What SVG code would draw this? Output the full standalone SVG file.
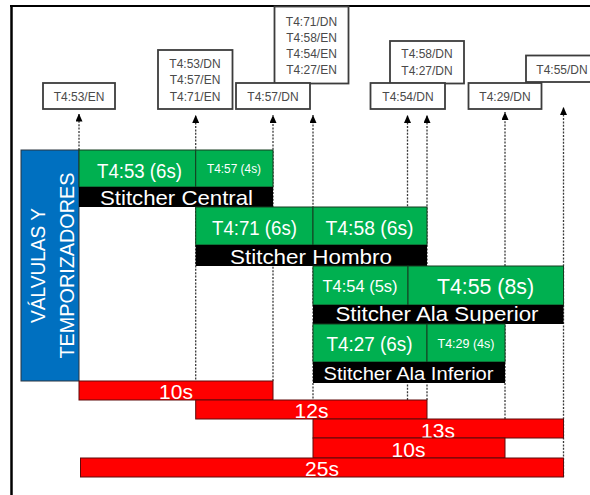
<svg xmlns="http://www.w3.org/2000/svg" width="590" height="495" viewBox="0 0 590 495">
  <style>
    .lbl rect { fill: #fff; stroke: #3c3c3c; stroke-width: 1.8; }
    .lbl text { font-family: "Liberation Sans", Arial, sans-serif; font-size: 12px; fill: #4a4a4a; text-anchor: middle; }
    .cn line { stroke: #3a3a3a; stroke-width: 1.3; stroke-dasharray: 2 1.4; marker-end: url(#ah); }
    .cell rect { fill: #00B050; stroke: #163d20; stroke-width: 1; }
    .bar rect { fill: #000; }
    .dur rect { fill: #FF0000; stroke: #5e0a0a; stroke-width: 1; }
    .t { font-family: "Liberation Sans", Arial, sans-serif; fill: #fff; text-anchor: middle; lengthAdjust: spacingAndGlyphs; }
    .frame { stroke: #000; fill: none; }
  </style>
  <defs>
    <marker id="ah" viewBox="0 0 8 7" refX="8" refY="3.5" markerWidth="8" markerHeight="7" markerUnits="userSpaceOnUse" orient="auto">
      <path d="M0,0 L8,3.5 L0,7 z" fill="#000"/>
    </marker>
  </defs>

  <rect width="590" height="495" fill="#fff"/>

  <!-- page frame -->
  <line class="frame" x1="11.5" y1="5" x2="11.5" y2="495" stroke-width="2.5"/>
  <line class="frame" x1="10" y1="6" x2="590" y2="6" stroke-width="2"/>

  <!-- dashed signal lines -->
  <g id="connectors" class="cn">
    <line x1="79" y1="150" x2="79" y2="113.5"/>
    <line x1="195.7" y1="400" x2="195.7" y2="115"/>
    <line x1="273" y1="381" x2="273" y2="115"/>
    <line x1="313" y1="419" x2="313" y2="115"/>
    <line x1="407.5" y1="400" x2="407.5" y2="115"/>
    <line x1="427" y1="400" x2="427" y2="115"/>
    <line x1="505" y1="419" x2="505" y2="112"/>
    <line x1="563.5" y1="477" x2="563.5" y2="107"/>
  </g>

  <!-- event labels -->
  <g id="lbl-t453en" class="lbl">
    <rect x="43" y="83" width="72" height="26"/>
    <text x="79" y="100.5">T4:53/EN</text>
  </g>
  <g id="lbl-t453dn" class="lbl">
    <rect x="158" y="50" width="74.5" height="59"/>
    <text x="195" y="67.5">T4:53/DN</text>
    <text x="195" y="84">T4:57/EN</text>
    <text x="195" y="100.5">T4:71/EN</text>
  </g>
  <g id="lbl-t471dn" class="lbl">
    <rect x="274.5" y="6.5" width="74" height="77"/>
    <text x="311.5" y="25.5">T4:71/DN</text>
    <text x="311.5" y="41.5">T4:58/EN</text>
    <text x="311.5" y="57.5">T4:54/EN</text>
    <text x="311.5" y="73.5">T4:27/EN</text>
  </g>
  <g id="lbl-t457dn" class="lbl">
    <rect x="236" y="83" width="74" height="26"/>
    <text x="273" y="100.5">T4:57/DN</text>
  </g>
  <g id="lbl-t458dn" class="lbl">
    <rect x="390" y="41" width="74" height="42.5"/>
    <text x="427" y="58">T4:58/DN</text>
    <text x="427" y="74.5">T4:27/DN</text>
  </g>
  <g id="lbl-t454dn" class="lbl">
    <rect x="370.5" y="83" width="74.5" height="26"/>
    <text x="408" y="100.5">T4:54/DN</text>
  </g>
  <g id="lbl-t455dn" class="lbl">
    <rect x="526" y="55.5" width="80" height="26.5"/>
    <text x="562" y="74">T4:55/DN</text>
  </g>
  <g id="lbl-t429dn" class="lbl">
    <rect x="468.5" y="83" width="73" height="26"/>
    <text x="505" y="100.5">T4:29/DN</text>
  </g>

  <!-- side heading -->
  <g id="heading">
    <rect x="21" y="150" width="58" height="231" fill="#0070C0" stroke="#2b3440" stroke-width="1"/>
    <text class="t" transform="translate(45,265.5) rotate(-90)" font-size="21" textLength="115" lengthAdjust="spacingAndGlyphs">VÁLVULAS Y</text>
    <text class="t" transform="translate(73.5,265.5) rotate(-90)" font-size="21" textLength="186" lengthAdjust="spacingAndGlyphs">TEMPORIZADORES</text>
  </g>

  <!-- Stitcher Central -->
  <g id="t453" class="cell">
    <rect x="79" y="150" width="116.7" height="37"/>
    <text class="t" x="139.5" y="177.5" font-size="20" textLength="85" lengthAdjust="spacingAndGlyphs">T4:53 (6s)</text>
  </g>
  <g id="t457" class="cell">
    <rect x="195.7" y="150" width="77.3" height="37"/>
    <text class="t" x="234" y="173" font-size="12" textLength="54" lengthAdjust="spacingAndGlyphs">T4:57 (4s)</text>
  </g>
  <g id="st-central" class="bar">
    <rect x="79" y="187" width="194" height="20"/>
    <text class="t" x="176.5" y="205" font-size="21" textLength="153" lengthAdjust="spacingAndGlyphs">Stitcher Central</text>
  </g>

  <!-- Stitcher Hombro -->
  <g id="t471" class="cell">
    <rect x="195.7" y="207" width="117.3" height="38"/>
    <text class="t" x="254.5" y="235" font-size="20" textLength="85" lengthAdjust="spacingAndGlyphs">T4:71 (6s)</text>
  </g>
  <g id="t458" class="cell">
    <rect x="313" y="207" width="114" height="38"/>
    <text class="t" x="369.5" y="235" font-size="20" textLength="88" lengthAdjust="spacingAndGlyphs">T4:58 (6s)</text>
  </g>
  <g id="st-hombro" class="bar">
    <rect x="195.7" y="245" width="231.3" height="21"/>
    <text class="t" x="311" y="263.5" font-size="21" textLength="162" lengthAdjust="spacingAndGlyphs">Stitcher Hombro</text>
  </g>

  <!-- Stitcher Ala Superior -->
  <g id="t454" class="cell">
    <rect x="313" y="266" width="95" height="39"/>
    <text class="t" x="360" y="291.5" font-size="16" textLength="75" lengthAdjust="spacingAndGlyphs">T4:54 (5s)</text>
  </g>
  <g id="t455" class="cell">
    <rect x="408" y="266" width="155.5" height="39"/>
    <text class="t" x="485.5" y="294" font-size="22" textLength="97" lengthAdjust="spacingAndGlyphs">T4:55 (8s)</text>
  </g>
  <g id="st-ala-sup" class="bar">
    <rect x="313" y="305" width="250.5" height="19"/>
    <text class="t" x="437" y="321" font-size="21" textLength="203" lengthAdjust="spacingAndGlyphs">Stitcher Ala Superior</text>
  </g>

  <!-- Stitcher Ala Inferior -->
  <g id="t427" class="cell">
    <rect x="313" y="324" width="114" height="38"/>
    <text class="t" x="369.5" y="351" font-size="20" textLength="86" lengthAdjust="spacingAndGlyphs">T4:27 (6s)</text>
  </g>
  <g id="t429" class="cell">
    <rect x="427" y="324" width="78" height="38"/>
    <text class="t" x="466" y="348" font-size="12.5" textLength="57" lengthAdjust="spacingAndGlyphs">T4:29 (4s)</text>
  </g>
  <g id="st-ala-inf" class="bar">
    <rect x="313" y="362" width="192" height="21"/>
    <text class="t" x="408.5" y="380" font-size="18" textLength="170" lengthAdjust="spacingAndGlyphs">Stitcher Ala Inferior</text>
  </g>

  <!-- cycle durations -->
  <g id="d-central" class="dur">
    <rect x="79" y="381" width="194" height="19"/>
    <text class="t" x="176" y="399" font-size="21">10s</text>
  </g>
  <g id="d-hombro" class="dur">
    <rect x="195.7" y="400" width="231.3" height="19"/>
    <text class="t" x="311.5" y="418" font-size="21">12s</text>
  </g>
  <g id="d-ala-sup" class="dur">
    <rect x="313" y="419" width="250.5" height="19"/>
    <text class="t" x="438" y="437.5" font-size="21">13s</text>
  </g>
  <g id="d-ala-inf" class="dur">
    <rect x="313" y="438" width="192" height="20"/>
    <text class="t" x="408.5" y="457" font-size="21">10s</text>
  </g>
  <g id="d-total" class="dur">
    <rect x="80.5" y="458" width="483" height="19"/>
    <text class="t" x="322" y="476" font-size="21">25s</text>
  </g>
</svg>
